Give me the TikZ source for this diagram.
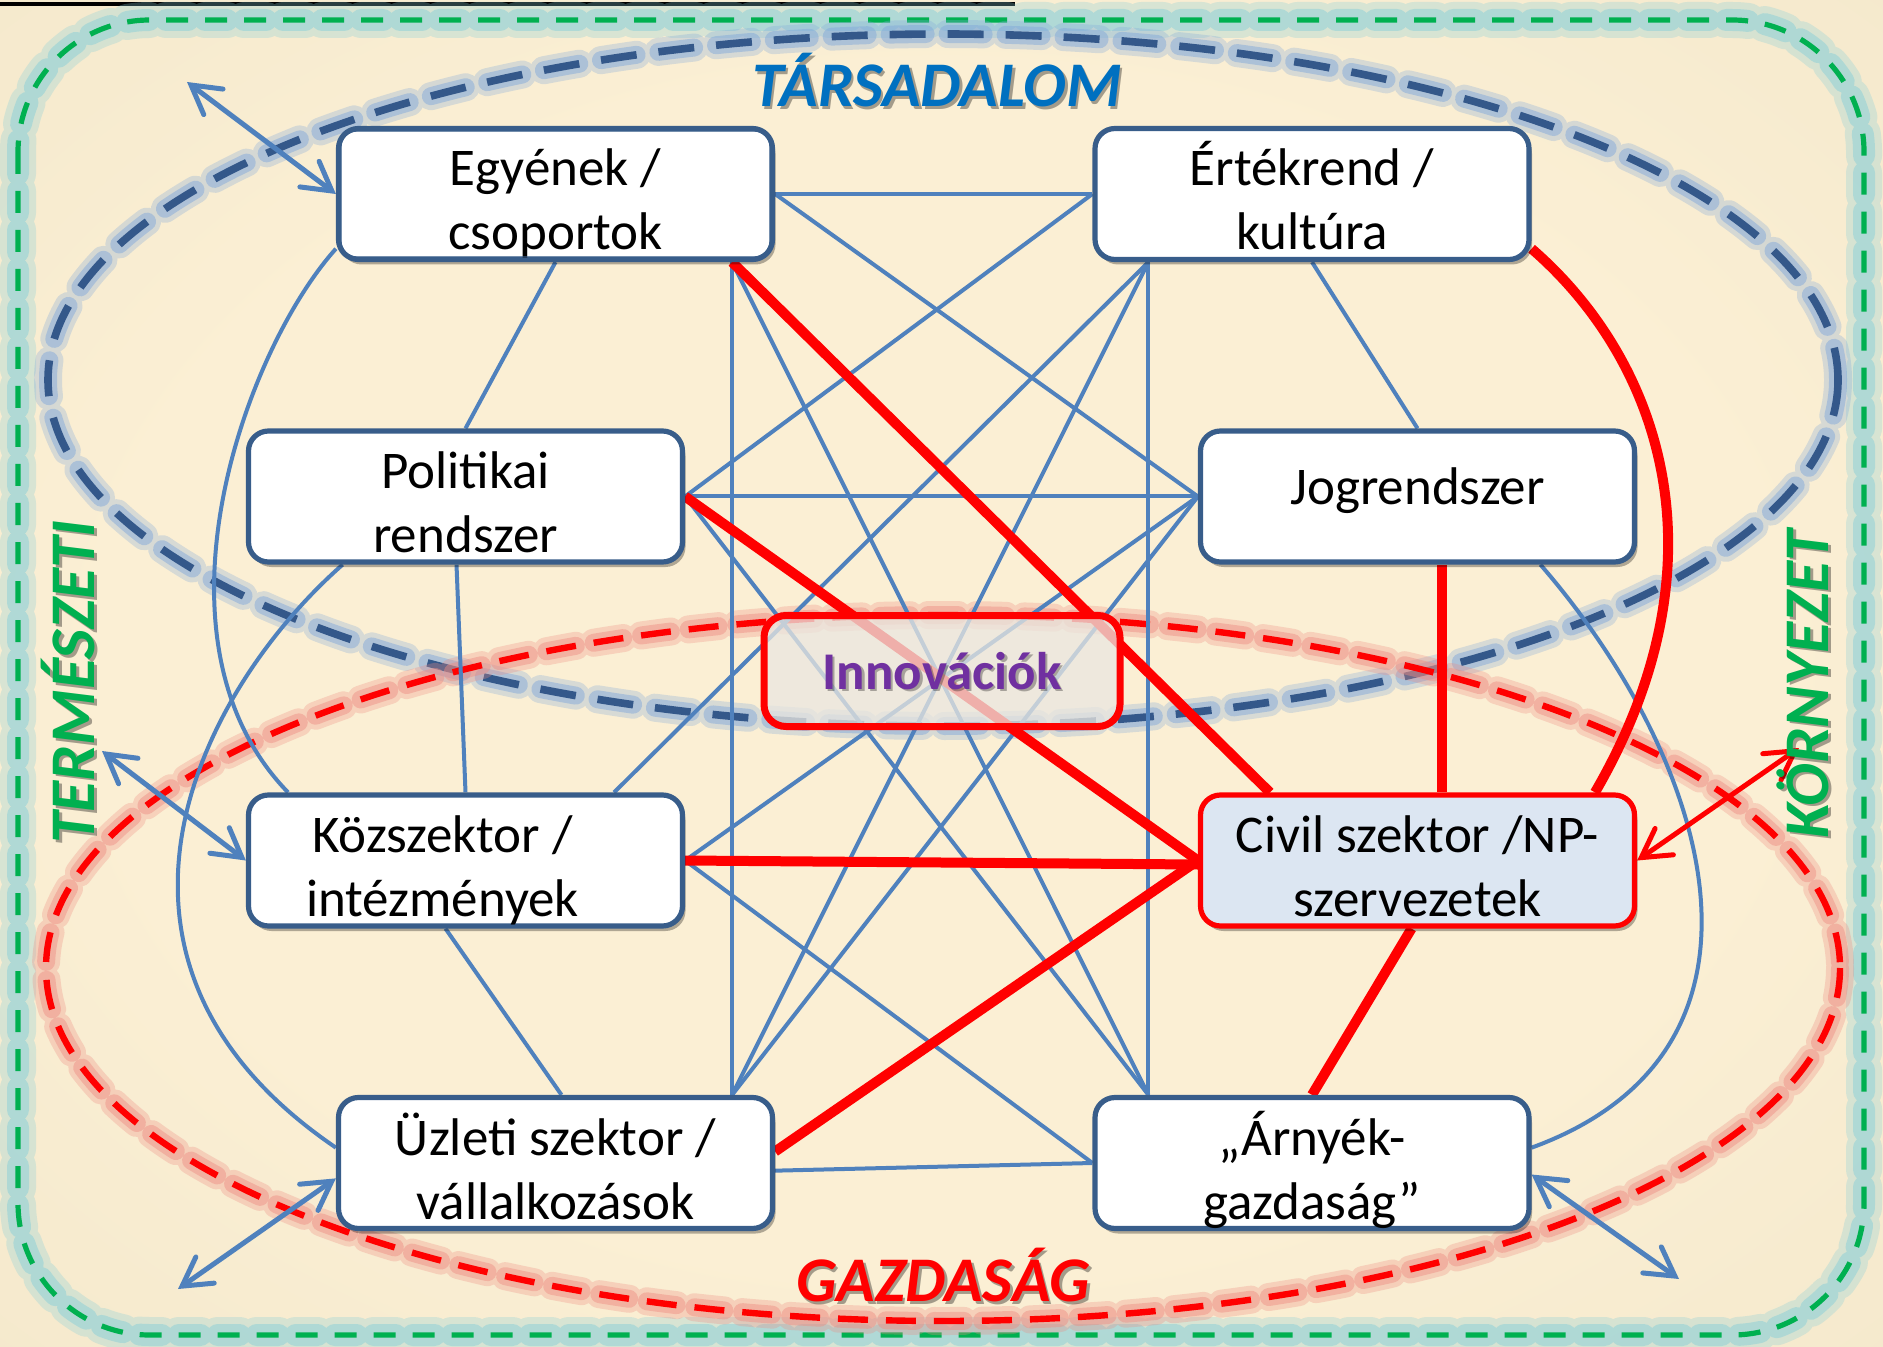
\documentclass[tikz,border=0pt]{standalone}
\usepackage{fontspec}
\setmainfont{Carlito}
\usetikzlibrary{arrows.meta,shadows,calc}

\definecolor{bgin}{RGB}{251,239,212}
\definecolor{bgout}{RGB}{229,218,186}
\definecolor{boxline}{RGB}{56,93,138}
\definecolor{linkblue}{RGB}{79,129,189}
\definecolor{socblue}{RGB}{52,88,138}
\definecolor{socglow}{RGB}{132,170,218}
\definecolor{ecored}{RGB}{255,0,0}
\definecolor{ecoglow}{RGB}{238,140,130}
\definecolor{envgreen}{RGB}{0,176,80}
\definecolor{envglow}{RGB}{138,208,216}
\definecolor{civilfill}{RGB}{220,230,242}
\definecolor{innofill}{RGB}{234,231,224}
\definecolor{innotext}{RGB}{112,48,160}
\definecolor{socttl}{RGB}{0,112,192}

\pgfdeclareradialshading{bgglow}{\pgfpoint{0bp}{0bp}}{color(0bp)=(bgin); color(22bp)=(bgin); color(72bp)=(bgout)}

\pgfdeclarelayer{back}
\pgfdeclarelayer{links}
\pgfsetlayers{back,links,main}

\begin{document}
\begin{tikzpicture}[x=0.5pt,y=-0.5pt,
  box/.style={draw=boxline, line width=2.6pt, fill=white, rounded corners=10pt,
    minimum width=217pt, minimum height=65.5pt, inner sep=0pt, align=center,
    font=\fontsize{26.5}{32}\selectfont, text height=56pt, text depth=0pt,
    drop shadow={shadow xshift=1.5pt, shadow yshift=-2.5pt, opacity=0.3, fill=black}},
  oneline/.style={text height=14pt, text depth=5.6pt},
  civilbox/.style={box, draw=ecored, fill=civilfill},
  innobox/.style={draw=ecored, line width=3.5pt, fill=innofill, fill opacity=0.76,
    rounded corners=11pt, minimum width=178pt, minimum height=55.5pt, inner sep=0pt},
  innolabel/.style={font=\fontsize{26.5}{32}\selectfont\bfseries, text=innotext, inner sep=0pt},
  ttl/.style={font=\fontsize{31.8}{36}\selectfont\bfseries\itshape, inner sep=0pt},
  ttlshadow/.style={ttl, text=black, opacity=0.35, xshift=1.3pt, yshift=-1.3pt},
  link/.style={linkblue, line width=2pt},
  hot/.style={ecored, line width=5pt},
  twoway/.style={line width=2.5pt, line cap=round,
    {Straight Barb[length=14pt, width=16pt, line cap=round]}-{Straight Barb[length=14pt, width=16pt, line cap=round]}},
  soc/.style={dash pattern=on 18pt off 11pt},
  eco/.style={dash pattern=on 15pt off 9pt},
  env/.style={dash pattern=on 11pt off 8.5pt},
]
\useasboundingbox (0,0) rectangle (1883,1347);

% ---------------- boxes ----------------
\node[box] (E) at (555.5,194) {Egyének /\\csoportok};
\node[box] (V) at (1312,194) {Értékrend /\\kultúra};
\node[box] (P) at (465.5,496.5) {Politikai\\rendszer};
\node[box, oneline] (J) at (1417.5,496.5) {Jogrendszer};
\node[box] (K) at (465.5,860.5) {Közszektor /\hspace*{23pt}\\intézmények\hspace*{23pt}};
\node[civilbox] (C) at (1417.5,860.5) {Civil szektor /NP-\\szervezetek};
\node[box] (U) at (555.5,1163) {Üzleti szektor /\\vállalkozások};
\node[box] (A) at (1312,1163) {„Árnyék-\\gazdaság”};
% thin inner rim of the first box
\draw[boxline, line width=0.5pt, rounded corners=8pt]
  ([shift={(2.6pt,-2.6pt)}]E.north west) rectangle ([shift={(-2.6pt,2.6pt)}]E.south east);

% shared attachment points
\coordinate (Ea) at ([xshift=-21.5pt]E.south east);
\coordinate (Va) at ([xshift=28pt]V.south west);
\coordinate (Ua) at ([xshift=-21.5pt]U.north east);
\coordinate (Aa) at ([xshift=28pt]A.north west);
\coordinate (Ka) at ([xshift=-35.5pt]K.north east);
\coordinate (Cb) at ([xshift=36pt]C.north west);
\coordinate (Jc) at ([xshift=12pt]J.south);
\coordinate (Cc) at ([xshift=12pt]C.north);

% ---------------- innovation box ----------------
\node[innobox] (I) at (942,671) {};
\node[innolabel, text=black, opacity=0.3, xshift=1.2pt, yshift=-1.2pt] (Ish) at (I) {Innovációk};
\node[innolabel] (It) at (I) {Innovációk};

% ---------------- titles ----------------
\node[ttlshadow] (T1s) at (937,80) {TÁRSADALOM};
\node[ttl, text=socttl] (T1) at (937,80) {TÁRSADALOM};
\node[ttlshadow] (T2s) at (943,1275) {GAZDASÁG};
\node[ttl, text=ecored] (T2) at (943,1275) {GAZDASÁG};
\node[ttlshadow, rotate=90] (T3s) at (68,682) {TERMÉSZETI};
\node[ttl, text=envgreen, rotate=90] (T3) at (68,682) {TERMÉSZETI};
\node[ttlshadow, rotate=90] (T4s) at (1803,684) {KÖRNYEZET};
\node[ttl, text=envgreen, rotate=90] (T4) at (1803,684) {KÖRNYEZET};

% ---------------- background, frame and the two spheres ----------------
\begin{pgfonlayer}{back}
  \shade[shading=bgglow] (0,0) rectangle (1883,1347);
  \draw[black, line width=2pt] (0,4) -- (1015,4);
  % environment frame
  \draw[envglow, env, line width=18pt, opacity=0.3, line cap=round, rounded corners=66pt] (18,20) rectangle (1864,1335);
  \draw[envglow, env, line width=11pt, opacity=0.5, line cap=round, rounded corners=66pt] (18,20) rectangle (1864,1335);
  \draw[envgreen, env, line width=2.6pt, rounded corners=66pt] (18,20) rectangle (1864,1335);
  % society sphere
  \draw[socglow, soc, line width=14pt, opacity=0.3, line cap=round] (943,380) ellipse [x radius=895, y radius=346];
  \draw[socglow, soc, line width=9pt, opacity=0.5, line cap=round] (943,380) ellipse [x radius=895, y radius=346];
  \draw[socblue, soc, line width=3.8pt] (943,380) ellipse [x radius=895, y radius=346];
  % economy sphere
  \draw[ecoglow, eco, line width=14pt, opacity=0.3, line cap=round] (943,968) ellipse [x radius=897, y radius=353];
  \draw[ecoglow, eco, line width=9pt, opacity=0.45, line cap=round] (943,968) ellipse [x radius=897, y radius=353];
  \draw[ecored, eco, line width=3.2pt] (943,968) ellipse [x radius=897, y radius=353];
\end{pgfonlayer}

% ---------------- connections ----------------
\begin{pgfonlayer}{links}
  % thin links
  \draw[link] (E.east) -- (V.west);
  \draw[link] (E.east) -- (J.west);
  \draw[link] (E.south) -- (P.north);
  \draw[link] (Ea) -- (Ua);
  \draw[link] (Ea) -- (Aa);
  \draw[link] (E.194) .. controls (245,350) and (140,640) .. (K.159);
  \draw[link] (V.west) -- (P.east);
  \draw[link] (V.south) -- (J.north);
  \draw[link] (Va) -- (Ka);
  \draw[link] (Va) -- (Ua);
  \draw[link] (Va) -- (Aa);
  \draw[link] (P.east) -- (J.west);
  \draw[link] ([xshift=-4.5pt]P.south) -- (K.north);
  \draw[link] (P.east) -- (Aa);
  \draw[link] (P.209) .. controls (200,690) and (60,960) .. (U.176);
  \draw[link] (J.west) -- (K.east);
  \draw[link] (J.west) -- (Ua);
  \draw[link] (J.-29) .. controls (1710,760) and (1800,1050) .. (A.4);
  \draw[link] (K.east) -- (A.west);
  \draw[link] ([xshift=-10pt]K.south) -- ([xshift=3pt]U.north);
  \draw[link] (U.-2) -- (A.west);
  % links of the civil sector
  \draw[hot] (Ea) -- (Cb);
  \draw[hot] (V.-14) .. controls (1660,360) and (1730,560) .. (C.21);
  \draw[hot] (P.east) -- (C.west);
  \draw[hot] (Jc) -- (Cc);
  \draw[hot] (K.east) -- ([yshift=-2pt]C.west);
  \draw[hot] (U.3) -- (C.west);
  \draw[hot] ([xshift=-3pt]C.south) -- (A.north);
  % exchange with the natural environment
  \coordinate (Eo) at (187,82);
  \coordinate (Ko) at (102,751);
  \coordinate (Uo) at (178,1289);
  \coordinate (Ao) at (1679,1279);
  \coordinate (Co) at (1799,748);
  \draw[twoway, linkblue] (Eo) -- (E.west);
  \draw[twoway, linkblue] (Ko) -- (K.west);
  \draw[twoway, linkblue] (Uo) -- (U.184);
  \draw[twoway, linkblue] (Ao) -- (A.-3);
  \draw[twoway, ecored] (Co) -- (C.east);
\end{pgfonlayer}
\end{tikzpicture}
\end{document}
